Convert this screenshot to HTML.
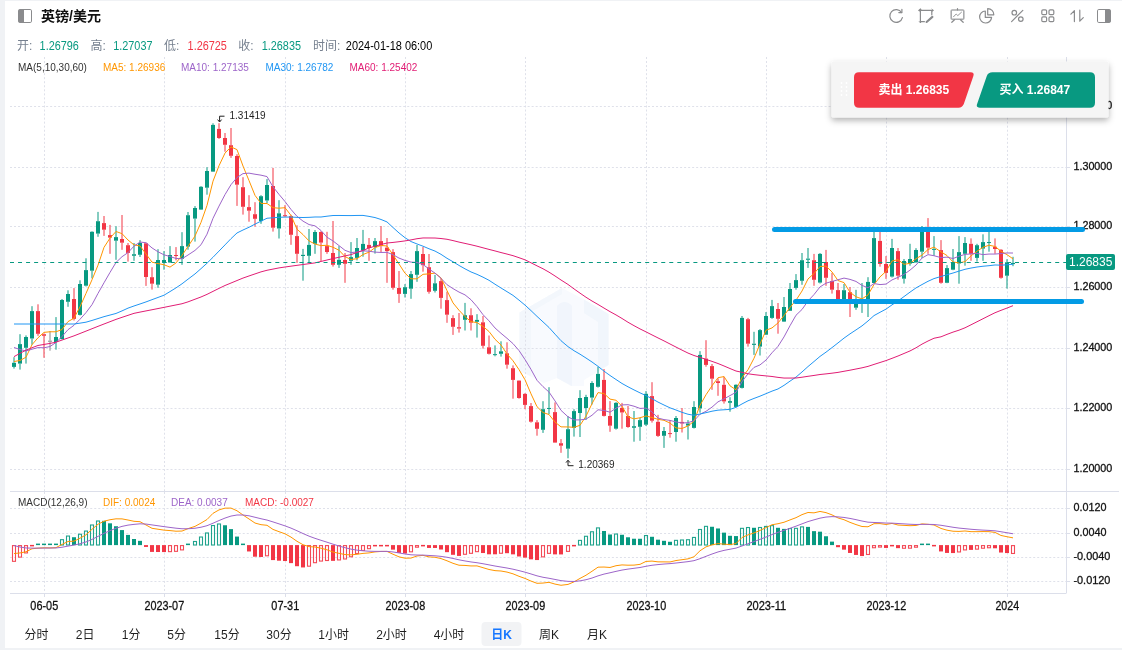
<!DOCTYPE html>
<html lang="zh-CN"><head><meta charset="utf-8"><title>英镑/美元</title>
<style>html,body{margin:0;padding:0;background:#fff;}body{width:1127px;height:651px;position:relative;overflow:hidden;font-family:"Liberation Sans","Noto Sans CJK SC",sans-serif;}svg text{white-space:pre}</style>
</head><body>
<svg width="1127" height="651" viewBox="0 0 1127 651" style="position:absolute;left:0;top:0">
<rect x="0" y="0" width="1127" height="651" fill="#fff"/>
<rect x="0" y="0" width="1122" height="650" fill="#f0f2f5"/>
<rect x="5" y="1" width="1117" height="647" fill="#fff"/>
<g><path d="M519.5 312.5L562 288L584 299.5L608.5 314V365L584 380V386L571 386L557 378L544 383L519.5 371Z" fill="#f8fafe"/><path d="M557 306Q564.5 298 572 306V386L557 378Z" fill="#f1f5fc"/><path d="M519.5 312.5L562 288L562 294L531 312V376L519.5 371Z" fill="#f3f7fc"/><path d="M584 299.5L608.5 314V365L598 371V322L584 313Z" fill="#f1f6fc"/></g>
<g stroke="#dfe1ea" stroke-width="1" stroke-dasharray="2 2.04" fill="none">
<path d="M44.5 57V491"/>
<path d="M44.5 492V593"/>
<path d="M164.5 57V491"/>
<path d="M164.5 492V593"/>
<path d="M285.5 57V491"/>
<path d="M285.5 492V593"/>
<path d="M405.5 57V491"/>
<path d="M405.5 492V593"/>
<path d="M525.5 57V491"/>
<path d="M525.5 492V593"/>
<path d="M646.5 57V491"/>
<path d="M646.5 492V593"/>
<path d="M766.5 57V491"/>
<path d="M766.5 492V593"/>
<path d="M886.5 57V491"/>
<path d="M886.5 492V593"/>
<path d="M1007.5 57V491"/>
<path d="M1007.5 492V593"/>
</g>
<g stroke="#dfe1ea" stroke-width="1" stroke-dasharray="2 2.0126" fill="none">
<path d="M10 106.5H1066"/>
<path d="M10 167.5H1066"/>
<path d="M10 226.5H1066"/>
<path d="M10 287.5H1066"/>
<path d="M10 348.5H1066"/>
<path d="M10 408.5H1066"/>
<path d="M10 469.5H1066"/>
<path d="M10 508.5H1066"/>
<path d="M10 533.5H1066"/>
<path d="M10 557.5H1066"/>
<path d="M10 581.5H1066"/>
</g>
<g stroke="#dcdfea" stroke-width="1" fill="none">
<path d="M10 491.5H1119"/>
<path d="M10 593.5H1066"/>
<path d="M1066.5 57V593.5"/>
<path d="M1066 106.5H1070"/>
<path d="M1066 167.5H1070"/>
<path d="M1066 226.5H1070"/>
<path d="M1066 287.5H1070"/>
<path d="M1066 348.5H1070"/>
<path d="M1066 408.5H1070"/>
<path d="M1066 469.5H1070"/>
<path d="M1066 508.5H1070"/>
<path d="M1066 533.5H1070"/>
<path d="M1066 557.5H1070"/>
<path d="M1066 581.5H1070"/>
<path d="M44.5 593V597"/>
<path d="M164.5 593V597"/>
<path d="M285.5 593V597"/>
<path d="M405.5 593V597"/>
<path d="M525.5 593V597"/>
<path d="M646.5 593V597"/>
<path d="M766.5 593V597"/>
<path d="M886.5 593V597"/>
<path d="M1007.5 593V597"/>
</g>
<g font-family="Liberation Sans, Noto Sans CJK SC, sans-serif" font-size="11.5" fill="#111" stroke="#111" stroke-width="0.3">
<text x="1073.4" y="109.1" textLength="38.98" lengthAdjust="spacingAndGlyphs">1.32000</text>
<text x="1073.4" y="170.1" textLength="38.98" lengthAdjust="spacingAndGlyphs">1.30000</text>
<text x="1073.4" y="229.1" textLength="38.98" lengthAdjust="spacingAndGlyphs">1.28000</text>
<text x="1073.4" y="290.1" textLength="38.98" lengthAdjust="spacingAndGlyphs">1.26000</text>
<text x="1073.4" y="351.1" textLength="38.98" lengthAdjust="spacingAndGlyphs">1.24000</text>
<text x="1073.4" y="411.1" textLength="38.98" lengthAdjust="spacingAndGlyphs">1.22000</text>
<text x="1073.4" y="472.1" textLength="38.98" lengthAdjust="spacingAndGlyphs">1.20000</text>
<text x="1073.4" y="511.1" textLength="33.05" lengthAdjust="spacingAndGlyphs">0.0120</text>
<text x="1073.4" y="536.1" textLength="33.05" lengthAdjust="spacingAndGlyphs">0.0040</text>
<text x="1073.4" y="560.1" textLength="37.05" lengthAdjust="spacingAndGlyphs">-0.0040</text>
<text x="1073.4" y="584.1" textLength="37.05" lengthAdjust="spacingAndGlyphs">-0.0120</text>
</g>
<g font-family="Liberation Sans, Noto Sans CJK SC, sans-serif" font-size="13" fill="#111" stroke="#111" stroke-width="0.3">
<text x="30.35" y="610.2" textLength="27.9" lengthAdjust="spacingAndGlyphs">06-05</text>
<text x="144.4" y="610.2" textLength="39.8" lengthAdjust="spacingAndGlyphs">2023-07</text>
<text x="271.35" y="610.2" textLength="27.9" lengthAdjust="spacingAndGlyphs">07-31</text>
<text x="385.4" y="610.2" textLength="39.8" lengthAdjust="spacingAndGlyphs">2023-08</text>
<text x="505.4" y="610.2" textLength="39.8" lengthAdjust="spacingAndGlyphs">2023-09</text>
<text x="626.4" y="610.2" textLength="39.8" lengthAdjust="spacingAndGlyphs">2023-10</text>
<text x="746.4" y="610.2" textLength="39.8" lengthAdjust="spacingAndGlyphs">2023-11</text>
<text x="866.4" y="610.2" textLength="39.8" lengthAdjust="spacingAndGlyphs">2023-12</text>
<text x="995.4" y="610.2" textLength="23.8" lengthAdjust="spacingAndGlyphs">2024</text>
</g>
<g stroke-width="1" fill="none"><path d="M14 357.2V362.8M14 366.9V368.6" stroke="#089981"/><path d="M20 334.2V344.1M20 363.6V369.6" stroke="#089981"/><path d="M26 335.4V337M26 347.8V363.6" stroke="#089981"/><path d="M32 306.2V311.1M32 338.5V344.7" stroke="#089981"/><path d="M38 304.3V311.1M38 333.8V335.8" stroke="#f23645"/><path d="M44 333.5V334.2M44 335.8V357.8" stroke="#f23645"/><path d="M50 331V340.7M50 341.7V350.7" stroke="#888888"/><path d="M56 317.1V337M56 342V349.7" stroke="#089981"/><path d="M62 299V300M62 339.1V339.5" stroke="#089981"/><path d="M68 290.3V294M68 301.8V306.8" stroke="#089981"/><path d="M74 288.1V299M74 318.9V320.5" stroke="#f23645"/><path d="M80 280.3V284M80 314.9V315.5" stroke="#089981"/><path d="M86 258.3V270.1M86 285.7V286.5" stroke="#089981"/><path d="M92 231.2V231.8M92 270.7V278.4" stroke="#089981"/><path d="M98 211.9V221.2M98 233.6V236.8" stroke="#089981"/><path d="M104 216V223.1M104 229.7V235.9" stroke="#f23645"/><path d="M110 224.9V235.1M110 237.6V253.8" stroke="#f23645"/><path d="M116 226.2V237.1M116 240.7V259.8" stroke="#089981"/><path d="M122 215V239M122 242.7V249.8" stroke="#f23645"/><path d="M128 243V245.2M128 252.9V261.6" stroke="#f23645"/><path d="M134 243V254.2M134 255.8V260.8" stroke="#089981"/><path d="M140 240.1V243M140 254.8V257" stroke="#089981"/><path d="M146 242.6V243.3M146 277V285.9" stroke="#f23645"/><path d="M152 267.2V277.2M152 283.7V289.6" stroke="#f23645"/><path d="M158 249.2V260M158 284.7V287.8" stroke="#089981"/><path d="M164 251.1V260M164 262.9V269.7" stroke="#089981"/><path d="M170 246.1V255M170 262.5V262.9" stroke="#089981"/><path d="M176 247.1V255M176 256V260.4" stroke="#f23645"/><path d="M182 232.2V246.1M182 258.8V264.8" stroke="#089981"/><path d="M188 212V215.2M188 246.6V249.7" stroke="#089981"/><path d="M195 206.1V208M195 218.6V241.6" stroke="#089981"/><path d="M201 186V186.8M201 209.6V209.9" stroke="#089981"/><path d="M207 167.2V171M207 187.7V194.7" stroke="#089981"/><path d="M213 123.3V124.9M213 171.6V172" stroke="#089981"/><path d="M219 123.2V128.9M219 138V138.9" stroke="#f23645"/><path d="M225 133V138M225 144.8V151.7" stroke="#f23645"/><path d="M231 128V145.2M231 155.8V157.9" stroke="#f23645"/><path d="M237 154.2V156M237 184.7V205.9" stroke="#f23645"/><path d="M243 177.2V187.2M243 206.8V214.6" stroke="#f23645"/><path d="M249 195.2V207.1M249 210.7V221.7" stroke="#f23645"/><path d="M255 202.2V214.2M255 218.8V226.7" stroke="#f23645"/><path d="M261 195.2V196.2M261 221.1V223.8" stroke="#089981"/><path d="M267 179.1V185M267 200.5V203" stroke="#089981"/><path d="M273 167.9V186M273 227.7V231.6" stroke="#f23645"/><path d="M279 200.2V213.3M279 228.5V238.5" stroke="#089981"/><path d="M285 205.1V215.2M285 216.3V217.1" stroke="#f23645"/><path d="M291 214.8V216.1M291 234.8V244.8" stroke="#f23645"/><path d="M297 225.3V236.1M297 253.8V262.9" stroke="#f23645"/><path d="M303 248.9V254.8M303 256V280.7" stroke="#089981"/><path d="M309 229V244.9M309 255.8V262.9" stroke="#089981"/><path d="M315 230.1V232M315 243.8V253.8" stroke="#089981"/><path d="M321 231.2V232M321 242.6V261" stroke="#f23645"/><path d="M327 231.8V246.1M327 252V253.8" stroke="#f23645"/><path d="M333 221V253M333 264.8V266.6" stroke="#f23645"/><path d="M339 246.1V259.8M339 264.8V267.9" stroke="#089981"/><path d="M345 253V260M345 263.8V282.8" stroke="#f23645"/><path d="M351 242.1V257.1M351 260.8V264.8" stroke="#089981"/><path d="M357 238V248M357 257.9V260.4" stroke="#089981"/><path d="M363 229.9V243.9M363 250.5V256.7" stroke="#089981"/><path d="M369 238V244.9M369 248V260.8" stroke="#f23645"/><path d="M375 238V241.1M375 247.1V253.6" stroke="#089981"/><path d="M381 226V241.1M381 246.1V252" stroke="#f23645"/><path d="M387 238V247.6M387 251.1V282.8" stroke="#f23645"/><path d="M393 249.1V252.1M393 287.8V289.7" stroke="#f23645"/><path d="M399 271V288M399 293.9V302.9" stroke="#f23645"/><path d="M405 284.1V287.2M405 293.9V297.5" stroke="#089981"/><path d="M411 271V274.1M411 288.7V298.8" stroke="#089981"/><path d="M417 245V251.1M417 274.8V281.8" stroke="#089981"/><path d="M423 247V254M423 265.2V271.7" stroke="#f23645"/><path d="M429 254V267.2M429 291.8V293.7" stroke="#f23645"/><path d="M435 274.9V283.3M435 290.8V292.5" stroke="#089981"/><path d="M441 278.3V281.1M441 297.9V308.7" stroke="#f23645"/><path d="M447 291.7V300.1M447 314.7V322.8" stroke="#f23645"/><path d="M453 315.2V318.1M453 326.8V334.9" stroke="#f23645"/><path d="M459 313V327.2M459 328.6V332.6" stroke="#f23645"/><path d="M465 302.9V315.2M465 319.8V330.5" stroke="#089981"/><path d="M471 308.3V315.2M471 322.7V330.5" stroke="#f23645"/><path d="M477 314.2V319.9M477 321.8V337.6" stroke="#089981"/><path d="M483 316V322.3M483 345.8V348.6" stroke="#f23645"/><path d="M489 335.5V347.3M489 353.8V354.5" stroke="#f23645"/><path d="M495 345.4V354.15M495 355.15V356.3" stroke="#089981"/><path d="M501 341.3V351.3M501 353.8V356.6" stroke="#089981"/><path d="M507 342.3V353.3M507 364.7V368.7" stroke="#f23645"/><path d="M513 365.4V368.2M513 379.9V398.7" stroke="#f23645"/><path d="M519 380.3V380.6M519 398V398.7" stroke="#f23645"/><path d="M525 393.1V393.9M525 404.9V409.2" stroke="#f23645"/><path d="M531 403V406.1M531 421.7V422.6" stroke="#f23645"/><path d="M537 420.1V422.3M537 428.8V435.7" stroke="#f23645"/><path d="M543 401.2V409.2M543 429.8V432.9" stroke="#089981"/><path d="M549 387.2V407.95M549 408.95V414.2" stroke="#089981"/><path d="M555 402.4V412.1M555 442.6V442.8" stroke="#f23645"/><path d="M561 439.1V443.2M561 445.7V452.8" stroke="#f23645"/><path d="M568 416.1V429.2M568 448.7V458.3" stroke="#089981"/><path d="M574 409.2V411.1M574 427.9V436.6" stroke="#089981"/><path d="M580 390.2V398M580 413V437" stroke="#089981"/><path d="M586 394.8V397M586 408V419.8" stroke="#089981"/><path d="M592 381.2V383M592 397.6V404.5" stroke="#089981"/><path d="M598 366.8V373.9M598 386.8V387.6" stroke="#089981"/><path d="M604 369V379.9M604 415.9V416.5" stroke="#f23645"/><path d="M610 401.1V416M610 425.7V431.8" stroke="#f23645"/><path d="M616 402.1V402.9M616 428.7V429.6" stroke="#089981"/><path d="M622 402.9V407.9M622 412.5V428.7" stroke="#f23645"/><path d="M628 406V416M628 427V427.8" stroke="#f23645"/><path d="M634 411V426.2M634 427.8V441.7" stroke="#089981"/><path d="M640 417.9V420.1M640 426.8V440.8" stroke="#089981"/><path d="M646 391.1V393.8M646 424.7V426" stroke="#089981"/><path d="M652 382.2V396.1M652 420.7V422.6" stroke="#f23645"/><path d="M658 414.8V421.8M658 435.9V436.9" stroke="#f23645"/><path d="M664 427V431M664 435.8V447.9" stroke="#089981"/><path d="M670 420.1V433.1M670 434.1V437.7" stroke="#f23645"/><path d="M676 416V418M676 432V441.7" stroke="#089981"/><path d="M682 408V421.9M682 423.4V432.5" stroke="#f23645"/><path d="M688 420.1V423.5M688 425.6V439.5" stroke="#089981"/><path d="M694 401.2V407M694 427.9V428.5" stroke="#089981"/><path d="M700 351.2V354.9M700 408.4V412.7" stroke="#089981"/><path d="M706 340.2V358.6M706 364.9V366.7" stroke="#f23645"/><path d="M712 364V366.1M712 378.7V389.8" stroke="#f23645"/><path d="M718 378.3V381.2M718 383V395.8" stroke="#f23645"/><path d="M724 376.7V384.8M724 401.4V403.6" stroke="#f23645"/><path d="M730 397.2V401.1M730 402.8V411.7" stroke="#089981"/><path d="M736 384.2V384.8M736 406.9V407.2" stroke="#089981"/><path d="M742 316V317.9M742 387.9V388.5" stroke="#089981"/><path d="M748 317.9V319.2M748 343.7V346.6" stroke="#f23645"/><path d="M754 331.8V343.7M754 344.9V354.9" stroke="#089981"/><path d="M760 329.1V330.1M760 346.6V355.5" stroke="#089981"/><path d="M766 312.1V316M766 334.7V335" stroke="#089981"/><path d="M772 299.9V306.1M772 317.9V318.8" stroke="#089981"/><path d="M778 303V309M778 318.8V333.7" stroke="#f23645"/><path d="M784 297V307M784 321.6V322" stroke="#089981"/><path d="M790 283V289M790 310.8V311" stroke="#089981"/><path d="M796 274.1V280.1M796 287.9V289.7" stroke="#089981"/><path d="M802 253V260.2M802 280.8V284.8" stroke="#089981"/><path d="M808 248V258.6M808 259.8V267.9" stroke="#089981"/><path d="M814 253.9V260.2M814 279.8V285.8" stroke="#f23645"/><path d="M820 253V253.9M820 282.6V283.5" stroke="#089981"/><path d="M826 249.9V262M826 277.8V285.8" stroke="#f23645"/><path d="M832 272.9V281M832 289.7V293.6" stroke="#f23645"/><path d="M838 283V290.1M838 301.5V302" stroke="#f23645"/><path d="M844 284V290.2M844 300.5V301" stroke="#089981"/><path d="M850 287V292.2M850 302V317" stroke="#f23645"/><path d="M856 289.8V300.6M856 307.7V309.8" stroke="#089981"/><path d="M862 283V300M862 301.5V312.9" stroke="#089981"/><path d="M868 277.2V281.9M868 300.5V317" stroke="#089981"/><path d="M874 230V238.1M874 283V283.5" stroke="#089981"/><path d="M880 229V240.9M880 264V266.7" stroke="#f23645"/><path d="M886 256.1V264M886 272.9V278.9" stroke="#f23645"/><path d="M892 238.9V248M892 276.6V277.5" stroke="#089981"/><path d="M898 248V251.1M898 275.7V279.7" stroke="#f23645"/><path d="M904 259V261M904 278.7V283.6" stroke="#089981"/><path d="M910 243.8V259M910 263.6V265.7" stroke="#089981"/><path d="M916 248.2V250M916 262.3V263" stroke="#089981"/><path d="M922 226V230M922 251.7V257.9" stroke="#089981"/><path d="M928 218.1V230.5M928 247.7V253.8" stroke="#f23645"/><path d="M934 236.1V248.9M934 249.9V255.8" stroke="#089981"/><path d="M941 240.1V250.1M941 282.8V283.7" stroke="#f23645"/><path d="M947 265.1V268.1M947 282.8V283.2" stroke="#089981"/><path d="M953 249V262.3M953 269.7V270.2" stroke="#089981"/><path d="M959 236.1V252.1M959 263.5V283.7" stroke="#089981"/><path d="M965 237.1V243M965 253.8V265.7" stroke="#089981"/><path d="M971 238.4V243.8M971 253.8V260.8" stroke="#f23645"/><path d="M977 243.8V245.2M977 257.9V261.6" stroke="#089981"/><path d="M983 234.3V242.1M983 248.6V260.8" stroke="#089981"/><path d="M989 228V242.05M989 243.05V251.7" stroke="#089981"/><path d="M995 238.4V246.7M995 249V253.8" stroke="#f23645"/><path d="M1001 249V249.8M1001 277.8V278.7" stroke="#f23645"/><path d="M1007 259.2V262.3M1007 275.7V288.6" stroke="#089981"/><path d="M1013 256.8V262.9M1013 264.1V266.2" stroke="#089981"/></g>
<g><rect x="12" y="362.8" width="4" height="4.1" fill="#089981"/><rect x="18" y="344.1" width="4" height="19.5" fill="#089981"/><rect x="24" y="337" width="4" height="10.8" fill="#089981"/><rect x="30" y="311.1" width="4" height="27.4" fill="#089981"/><rect x="36" y="311.1" width="4" height="22.7" fill="#f23645"/><rect x="42" y="334.2" width="4" height="1.6" fill="#f23645"/><rect x="48" y="340.7" width="4" height="1" fill="#888888"/><rect x="54" y="337" width="4" height="5" fill="#089981"/><rect x="60" y="300" width="4" height="39.1" fill="#089981"/><rect x="66" y="294" width="4" height="7.8" fill="#089981"/><rect x="72" y="299" width="4" height="19.9" fill="#f23645"/><rect x="78" y="284" width="4" height="30.9" fill="#089981"/><rect x="84" y="270.1" width="4" height="15.6" fill="#089981"/><rect x="90" y="231.8" width="4" height="38.9" fill="#089981"/><rect x="96" y="221.2" width="4" height="12.4" fill="#089981"/><rect x="102" y="223.1" width="4" height="6.6" fill="#f23645"/><rect x="108" y="235.1" width="4" height="2.5" fill="#f23645"/><rect x="114" y="237.1" width="4" height="3.6" fill="#089981"/><rect x="120" y="239" width="4" height="3.7" fill="#f23645"/><rect x="126" y="245.2" width="4" height="7.7" fill="#f23645"/><rect x="132" y="254.2" width="4" height="1.6" fill="#089981"/><rect x="138" y="243" width="4" height="11.8" fill="#089981"/><rect x="144" y="243.3" width="4" height="33.7" fill="#f23645"/><rect x="150" y="277.2" width="4" height="6.5" fill="#f23645"/><rect x="156" y="260" width="4" height="24.7" fill="#089981"/><rect x="162" y="260" width="4" height="2.9" fill="#089981"/><rect x="168" y="255" width="4" height="7.5" fill="#089981"/><rect x="174" y="255" width="4" height="1" fill="#f23645"/><rect x="180" y="246.1" width="4" height="12.7" fill="#089981"/><rect x="186" y="215.2" width="4" height="31.4" fill="#089981"/><rect x="193" y="208" width="4" height="10.6" fill="#089981"/><rect x="199" y="186.8" width="4" height="22.8" fill="#089981"/><rect x="205" y="171" width="4" height="16.7" fill="#089981"/><rect x="211" y="124.9" width="4" height="46.7" fill="#089981"/><rect x="217" y="128.9" width="4" height="9.1" fill="#f23645"/><rect x="223" y="138" width="4" height="6.8" fill="#f23645"/><rect x="229" y="145.2" width="4" height="10.6" fill="#f23645"/><rect x="235" y="156" width="4" height="28.7" fill="#f23645"/><rect x="241" y="187.2" width="4" height="19.6" fill="#f23645"/><rect x="247" y="207.1" width="4" height="3.6" fill="#f23645"/><rect x="253" y="214.2" width="4" height="4.6" fill="#f23645"/><rect x="259" y="196.2" width="4" height="24.9" fill="#089981"/><rect x="265" y="185" width="4" height="15.5" fill="#089981"/><rect x="271" y="186" width="4" height="41.7" fill="#f23645"/><rect x="277" y="213.3" width="4" height="15.2" fill="#089981"/><rect x="283" y="215.2" width="4" height="1.1" fill="#f23645"/><rect x="289" y="216.1" width="4" height="18.7" fill="#f23645"/><rect x="295" y="236.1" width="4" height="17.7" fill="#f23645"/><rect x="301" y="254.8" width="4" height="1.2" fill="#089981"/><rect x="307" y="244.9" width="4" height="10.9" fill="#089981"/><rect x="313" y="232" width="4" height="11.8" fill="#089981"/><rect x="319" y="232" width="4" height="10.6" fill="#f23645"/><rect x="325" y="246.1" width="4" height="5.9" fill="#f23645"/><rect x="331" y="253" width="4" height="11.8" fill="#f23645"/><rect x="337" y="259.8" width="4" height="5" fill="#089981"/><rect x="343" y="260" width="4" height="3.8" fill="#f23645"/><rect x="349" y="257.1" width="4" height="3.7" fill="#089981"/><rect x="355" y="248" width="4" height="9.9" fill="#089981"/><rect x="361" y="243.9" width="4" height="6.6" fill="#089981"/><rect x="367" y="244.9" width="4" height="3.1" fill="#f23645"/><rect x="373" y="241.1" width="4" height="6" fill="#089981"/><rect x="379" y="241.1" width="4" height="5" fill="#f23645"/><rect x="385" y="247.6" width="4" height="3.5" fill="#f23645"/><rect x="391" y="252.1" width="4" height="35.7" fill="#f23645"/><rect x="397" y="288" width="4" height="5.9" fill="#f23645"/><rect x="403" y="287.2" width="4" height="6.7" fill="#089981"/><rect x="409" y="274.1" width="4" height="14.6" fill="#089981"/><rect x="415" y="251.1" width="4" height="23.7" fill="#089981"/><rect x="421" y="254" width="4" height="11.2" fill="#f23645"/><rect x="427" y="267.2" width="4" height="24.6" fill="#f23645"/><rect x="433" y="283.3" width="4" height="7.5" fill="#089981"/><rect x="439" y="281.1" width="4" height="16.8" fill="#f23645"/><rect x="445" y="300.1" width="4" height="14.6" fill="#f23645"/><rect x="451" y="318.1" width="4" height="8.7" fill="#f23645"/><rect x="457" y="327.2" width="4" height="1.4" fill="#f23645"/><rect x="463" y="315.2" width="4" height="4.6" fill="#089981"/><rect x="469" y="315.2" width="4" height="7.5" fill="#f23645"/><rect x="475" y="319.9" width="4" height="1.9" fill="#089981"/><rect x="481" y="322.3" width="4" height="23.5" fill="#f23645"/><rect x="487" y="347.3" width="4" height="6.5" fill="#f23645"/><rect x="493" y="354.15" width="4" height="1" fill="#089981"/><rect x="499" y="351.3" width="4" height="2.5" fill="#089981"/><rect x="505" y="353.3" width="4" height="11.4" fill="#f23645"/><rect x="511" y="368.2" width="4" height="11.7" fill="#f23645"/><rect x="517" y="380.6" width="4" height="17.4" fill="#f23645"/><rect x="523" y="393.9" width="4" height="11" fill="#f23645"/><rect x="529" y="406.1" width="4" height="15.6" fill="#f23645"/><rect x="535" y="422.3" width="4" height="6.5" fill="#f23645"/><rect x="541" y="409.2" width="4" height="20.6" fill="#089981"/><rect x="547" y="407.95" width="4" height="1" fill="#089981"/><rect x="553" y="412.1" width="4" height="30.5" fill="#f23645"/><rect x="559" y="443.2" width="4" height="2.5" fill="#f23645"/><rect x="566" y="429.2" width="4" height="19.5" fill="#089981"/><rect x="572" y="411.1" width="4" height="16.8" fill="#089981"/><rect x="578" y="398" width="4" height="15" fill="#089981"/><rect x="584" y="397" width="4" height="11" fill="#089981"/><rect x="590" y="383" width="4" height="14.6" fill="#089981"/><rect x="596" y="373.9" width="4" height="12.9" fill="#089981"/><rect x="602" y="379.9" width="4" height="36" fill="#f23645"/><rect x="608" y="416" width="4" height="9.7" fill="#f23645"/><rect x="614" y="402.9" width="4" height="25.8" fill="#089981"/><rect x="620" y="407.9" width="4" height="4.6" fill="#f23645"/><rect x="626" y="416" width="4" height="11" fill="#f23645"/><rect x="632" y="426.2" width="4" height="1.6" fill="#089981"/><rect x="638" y="420.1" width="4" height="6.7" fill="#089981"/><rect x="644" y="393.8" width="4" height="30.9" fill="#089981"/><rect x="650" y="396.1" width="4" height="24.6" fill="#f23645"/><rect x="656" y="421.8" width="4" height="14.1" fill="#f23645"/><rect x="662" y="431" width="4" height="4.8" fill="#089981"/><rect x="668" y="433.1" width="4" height="1" fill="#f23645"/><rect x="674" y="418" width="4" height="14" fill="#089981"/><rect x="680" y="421.9" width="4" height="1.5" fill="#f23645"/><rect x="686" y="423.5" width="4" height="2.1" fill="#089981"/><rect x="692" y="407" width="4" height="20.9" fill="#089981"/><rect x="698" y="354.9" width="4" height="53.5" fill="#089981"/><rect x="704" y="358.6" width="4" height="6.3" fill="#f23645"/><rect x="710" y="366.1" width="4" height="12.6" fill="#f23645"/><rect x="716" y="381.2" width="4" height="1.8" fill="#f23645"/><rect x="722" y="384.8" width="4" height="16.6" fill="#f23645"/><rect x="728" y="401.1" width="4" height="1.7" fill="#089981"/><rect x="734" y="384.8" width="4" height="22.1" fill="#089981"/><rect x="740" y="317.9" width="4" height="70" fill="#089981"/><rect x="746" y="319.2" width="4" height="24.5" fill="#f23645"/><rect x="752" y="343.7" width="4" height="1.2" fill="#089981"/><rect x="758" y="330.1" width="4" height="16.5" fill="#089981"/><rect x="764" y="316" width="4" height="18.7" fill="#089981"/><rect x="770" y="306.1" width="4" height="11.8" fill="#089981"/><rect x="776" y="309" width="4" height="9.8" fill="#f23645"/><rect x="782" y="307" width="4" height="14.6" fill="#089981"/><rect x="788" y="289" width="4" height="21.8" fill="#089981"/><rect x="794" y="280.1" width="4" height="7.8" fill="#089981"/><rect x="800" y="260.2" width="4" height="20.6" fill="#089981"/><rect x="806" y="258.6" width="4" height="1.2" fill="#089981"/><rect x="812" y="260.2" width="4" height="19.6" fill="#f23645"/><rect x="818" y="253.9" width="4" height="28.7" fill="#089981"/><rect x="824" y="262" width="4" height="15.8" fill="#f23645"/><rect x="830" y="281" width="4" height="8.7" fill="#f23645"/><rect x="836" y="290.1" width="4" height="11.4" fill="#f23645"/><rect x="842" y="290.2" width="4" height="10.3" fill="#089981"/><rect x="848" y="292.2" width="4" height="9.8" fill="#f23645"/><rect x="854" y="300.6" width="4" height="7.1" fill="#089981"/><rect x="860" y="300" width="4" height="1.5" fill="#089981"/><rect x="866" y="281.9" width="4" height="18.6" fill="#089981"/><rect x="872" y="238.1" width="4" height="44.9" fill="#089981"/><rect x="878" y="240.9" width="4" height="23.1" fill="#f23645"/><rect x="884" y="264" width="4" height="8.9" fill="#f23645"/><rect x="890" y="248" width="4" height="28.6" fill="#089981"/><rect x="896" y="251.1" width="4" height="24.6" fill="#f23645"/><rect x="902" y="261" width="4" height="17.7" fill="#089981"/><rect x="908" y="259" width="4" height="4.6" fill="#089981"/><rect x="914" y="250" width="4" height="12.3" fill="#089981"/><rect x="920" y="230" width="4" height="21.7" fill="#089981"/><rect x="926" y="230.5" width="4" height="17.2" fill="#f23645"/><rect x="932" y="248.9" width="4" height="1" fill="#089981"/><rect x="939" y="250.1" width="4" height="32.7" fill="#f23645"/><rect x="945" y="268.1" width="4" height="14.7" fill="#089981"/><rect x="951" y="262.3" width="4" height="7.4" fill="#089981"/><rect x="957" y="252.1" width="4" height="11.4" fill="#089981"/><rect x="963" y="243" width="4" height="10.8" fill="#089981"/><rect x="969" y="243.8" width="4" height="10" fill="#f23645"/><rect x="975" y="245.2" width="4" height="12.7" fill="#089981"/><rect x="981" y="242.1" width="4" height="6.5" fill="#089981"/><rect x="987" y="242.05" width="4" height="1" fill="#089981"/><rect x="993" y="246.7" width="4" height="2.3" fill="#f23645"/><rect x="999" y="249.8" width="4" height="28" fill="#f23645"/><rect x="1005" y="262.3" width="4" height="13.4" fill="#089981"/><rect x="1011" y="262.9" width="4" height="1.2" fill="#089981"/></g>
<polyline points="14,361.5 20,360.5 26,357.2 32,344.7 38,337.76 44,332.36 50,331.78 56,331.78 62,329.56 68,321.6 74,318.22 80,306.78 86,293.4 92,279.76 98,265.2 104,247.36 110,238.08 116,231.48 122,233.66 128,240 134,244.9 140,245.98 146,253.96 152,262.16 158,263.58 164,264.74 170,267.14 176,262.94 182,255.42 188,246.46 195,236.06 201,222.42 207,205.42 213,181.18 219,165.74 225,153.1 231,146.9 237,149.64 243,166.02 249,180.56 255,195.36 261,203.44 267,203.5 273,207.68 279,208.2 285,207.7 291,215.42 297,229.18 303,234.6 309,240.92 315,244.06 321,245.62 327,245.26 333,247.26 339,250.24 345,256.6 351,259.5 357,258.7 363,254.52 369,252.16 375,247.62 381,245.42 387,246.04 393,254.82 399,264 405,273.22 411,278.82 417,278.82 423,274.3 429,273.88 435,273.1 441,277.86 447,290.58 453,302.9 459,310.26 465,316.64 471,321.6 477,322.64 483,326.44 489,331.48 495,339.28 501,345 507,353.96 513,360.78 519,369.62 525,379.76 531,393.84 537,406.66 543,412.52 549,414.52 555,422.06 561,426.86 568,426.94 574,427.32 580,425.32 586,416.2 592,403.66 598,392.6 604,393.56 610,399.1 616,400.28 622,406.18 628,416.8 634,418.86 640,417.74 646,415.92 652,417.56 658,419.34 664,420.3 670,423.08 676,427.92 682,428.46 688,425.98 694,421.18 700,405.36 706,394.74 712,385.8 718,377.7 724,376.58 730,385.82 736,389.8 742,377.64 748,369.78 754,358.24 760,344.04 766,330.28 772,327.92 778,322.94 784,315.6 790,307.38 796,300.2 802,291.02 808,278.98 814,273.54 820,266.52 826,266.06 832,271.96 838,280.54 844,282.62 850,292.24 856,296.8 862,298.86 868,294.94 874,284.52 880,276.92 886,271.38 892,260.98 898,259.74 904,264.32 910,263.32 916,258.74 922,255.14 928,249.54 934,247.14 941,251.9 947,255.52 953,261.98 959,262.86 965,261.66 971,255.86 977,251.28 983,247.24 989,245.24 995,246.44 1001,251.24 1007,254.66 1013,258.82" fill="none" stroke="#FF9600" stroke-width="1" stroke-linejoin="round"/>
<polyline points="14,347.5 20,349.5 26,351 32,349.2 38,347.6 44,347.8 50,346.5 56,342.5 62,336.5 68,329.68 74,325.29 80,319.28 86,312.59 92,304.66 98,293.4 104,282.79 110,272.43 116,262.44 122,256.71 128,252.6 134,246.13 140,242.03 146,242.72 152,247.91 158,251.79 164,254.82 170,256.56 176,258.45 182,258.79 188,255.02 195,250.4 201,244.78 207,234.18 213,218.3 219,206.1 225,194.58 231,184.66 237,177.53 243,173.6 249,173.15 255,174.23 261,175.17 267,176.57 273,186.85 279,194.38 285,201.53 291,209.43 297,216.34 303,221.14 309,224.56 315,225.88 321,230.52 327,237.22 333,240.93 339,245.58 345,250.33 351,252.56 357,251.98 363,250.89 369,251.2 375,252.11 381,252.46 387,252.37 393,254.67 399,258.08 405,260.42 411,262.12 417,262.43 423,264.56 429,268.94 435,273.16 441,278.34 447,284.7 453,288.6 459,292.07 465,294.87 471,299.73 477,306.61 483,314.67 489,320.87 495,327.96 501,333.3 507,338.3 513,343.61 519,350.55 525,359.52 531,369.42 537,380.31 543,386.65 549,392.07 555,400.91 561,410.35 568,416.8 574,419.92 580,419.92 586,419.13 592,415.26 598,409.77 604,410.44 610,412.21 616,408.24 622,404.92 628,404.7 634,406.21 640,408.42 646,408.1 652,411.87 658,418.07 664,419.58 670,420.41 676,421.92 682,423.01 688,422.66 694,420.74 700,414.22 706,411.33 712,407.13 718,401.84 724,398.88 730,395.59 736,392.27 742,381.72 748,373.74 754,367.41 760,364.93 766,360.04 772,352.78 778,346.36 784,336.92 790,325.71 796,315.24 802,309.47 808,300.96 814,294.57 820,286.95 826,283.13 832,281.49 838,279.76 844,278.08 850,279.38 856,281.43 862,285.41 868,287.74 874,283.57 880,284.58 886,284.09 892,279.92 898,277.34 904,274.42 910,270.12 916,265.06 922,258.06 928,254.64 934,255.73 941,257.61 947,257.13 953,258.56 959,256.2 965,254.4 971,253.88 977,253.4 983,254.61 989,254.05 995,254.05 1001,253.55 1007,252.97 1013,253.03" fill="none" stroke="#9D65C9" stroke-width="1" stroke-linejoin="round"/>
<polyline points="14,324 20,324 26,324 32,324 38,324 44,324 50,324 56,324 62,324 68,324 74,324 80,323.15 86,322.18 92,320.45 98,318.55 104,316.66 110,315.05 116,313.46 122,310.9 128,308.14 134,305.97 140,303.97 146,301.91 152,299.67 158,297.44 164,295.21 170,291.58 176,287.88 182,283.8 188,279.19 195,273.92 201,268.63 207,263.19 213,257.27 219,251.07 225,244.9 231,238.65 237,232.96 243,230 249,227.27 255,224.12 261,221.16 267,218.24 273,217.79 279,217.3 285,217.07 291,217.05 297,217.36 303,217.53 309,217.35 315,216.99 321,217.01 327,216.21 333,215.51 339,215.48 345,215.54 351,215.58 357,215.44 363,215.41 369,216.39 375,217.55 381,219.48 387,221.93 393,227.5 399,232.95 405,237.71 411,241.55 417,243.96 423,246.2 429,248.77 435,251.07 441,254.34 447,258.3 453,261.75 459,265.43 465,268.83 471,271.94 477,274.35 483,277.17 489,280.29 495,284.22 501,287.97 507,291.66 513,295.39 519,300.13 525,305.11 531,310.62 537,316.39 543,321.9 549,327.48 555,334.13 561,340.71 568,346.62 574,350.71 580,354.19 586,358.02 592,362 598,366.34 604,371.15 610,375.47 616,379.51 622,383.48 628,386.81 634,389.9 640,392.85 646,395.6 652,398.68 658,402.09 664,405.02 670,407.84 676,410.01 682,412.33 688,414.24 694,415.31 700,414.03 706,412.68 712,411.21 718,410.16 724,409.77 730,409.37 736,407.35 742,403.94 748,400.81 754,398.41 760,396.16 766,393.66 772,391.13 778,388.96 784,385.37 790,381.13 796,377.1 802,371.97 808,366.56 814,361.53 820,356.42 826,352.17 832,347.6 838,342.92 844,338.14 850,333.87 856,329.92 862,325.87 868,320.97 874,315.59 880,312.31 886,309.11 892,304.86 898,300.99 904,296.58 910,292.15 916,287.93 922,284.56 928,281.3 934,278.59 941,276.49 947,274.73 953,273.03 959,271.12 965,269.31 971,268.05 977,267 983,266.24 989,265.69 995,264.97 1001,265.17 1007,264.79 1013,264.22" fill="none" stroke="#2196F3" stroke-width="1" stroke-linejoin="round"/>
<polyline points="14,356.63 20,353.31 26,350.16 32,347.74 38,345.48 44,344.45 50,343.42 56,342.18 62,340.07 68,337.96 74,335.85 80,333.49 86,331.11 92,328.72 98,326.34 104,324.01 110,321.7 116,319.39 122,317.33 128,315.33 134,313.33 140,312.1 146,310.92 152,309.74 158,308.56 164,307.36 170,306.15 176,304.95 182,303.74 188,301.87 195,299.23 201,296.97 207,294.36 213,291.37 219,288.39 225,285.49 231,283.02 237,280.54 243,278.07 249,275.96 255,273.91 261,271.86 267,270.27 273,269.08 279,267.9 285,267 291,266.16 297,265.34 303,264.52 309,263.71 315,262.88 321,261.44 327,260.01 333,258.58 339,257.25 345,255.93 351,254.6 357,252.49 363,250.38 369,247.99 375,246.16 381,244.53 387,243 393,242.43 399,241.71 405,240.92 411,239.9 417,238.71 423,237.96 429,237.98 435,238.02 441,238.52 447,239.28 453,240.58 459,242.09 465,243.41 471,244.76 477,246.2 483,247.81 489,249.4 495,250.93 501,252.55 507,254.07 513,255.66 519,257.7 525,259.83 531,262.8 537,265.83 543,268.77 549,272.16 555,275.98 561,280.01 568,284.45 574,288.9 580,293.13 586,297.25 592,301.02 598,304.46 604,308.07 610,311.63 616,314.92 622,318.48 628,322.25 634,325.66 640,328.9 646,331.87 652,334.92 658,337.93 664,340.89 670,343.99 676,347.07 682,350.11 688,353.07 694,355.5 700,357.41 706,359.36 712,361.38 718,363.52 724,365.97 730,368.54 736,371.02 742,372.32 748,373.78 754,374.64 760,375.3 766,375.9 772,376.49 778,377.38 784,378.05 790,378.06 796,378.01 802,377.23 808,376.3 814,375.44 820,374.5 826,373.88 832,373.18 838,372.38 844,371.27 850,370.2 856,369 862,367.82 868,366.38 874,364.42 880,362.5 886,360.59 892,358.34 898,356.01 904,353.48 910,350.94 916,347.81 922,344.13 928,341.02 934,338.24 941,336.81 947,334.36 953,332.12 959,330.18 965,327.81 971,324.8 977,321.78 983,318.74 989,315.7 995,312.74 1001,310.33 1007,308.06 1013,305.68" fill="none" stroke="#E11D74" stroke-width="1" stroke-linejoin="round"/>
<path d="M10 262.5H1066" stroke="#089981" stroke-width="1" stroke-dasharray="4 4.04" fill="none"/>
<g stroke="#039be5" stroke-width="5" stroke-linecap="round" fill="none"><path d="M774.5 229.4H1082.5"/><path d="M795.5 301.4H1081.5"/></g>
<rect x="1066" y="254" width="49" height="16" rx="2" fill="#089981"/>
<text x="1069" y="266.3" font-family="Liberation Sans, Noto Sans CJK SC, sans-serif" font-size="12" fill="#fff">1.26835</text>
<g font-family="Liberation Sans, Noto Sans CJK SC, sans-serif" font-size="10" fill="#1f1f1f"><text x="229.5" y="118.7">1.31419</text><text x="578.3" y="467.7">1.20369</text></g>
<g stroke="#1f1f1f" stroke-width="1" fill="none"><path d="M224.5 116.2H219.6V121.6M217.6 119.6L219.6 122L221.6 119.6"/><path d="M573.5 465.7H568V460.6M566 462.6L568 460.2L570 462.6"/></g>
<g><rect x="12.5" y="545.6" width="3" height="15.73" fill="none" stroke="#f23645" stroke-width="1.1" opacity="0.9"/><rect x="18.5" y="545.6" width="3" height="11.52" fill="none" stroke="#f23645" stroke-width="1.1" opacity="0.9"/><rect x="24.5" y="545.6" width="3" height="7.33" fill="none" stroke="#f23645" stroke-width="1.1" opacity="0.9"/><rect x="30" y="544.9" width="4" height="1.5" fill="#f23645"/><rect x="36" y="543.6" width="4" height="1.5" fill="#089981"/><rect x="42" y="543.6" width="4" height="1.5" fill="#089981"/><rect x="48" y="543.6" width="4" height="1.5" fill="#089981"/><rect x="54" y="543.6" width="4" height="1.5" fill="#089981"/><rect x="60.5" y="539.69" width="3" height="5.31" fill="none" stroke="#089981" stroke-width="1.1" opacity="0.9"/><rect x="66.5" y="536.05" width="3" height="8.95" fill="none" stroke="#089981" stroke-width="1.1" opacity="0.9"/><rect x="72" y="537.22" width="4" height="7.88" fill="#089981"/><rect x="78.5" y="534.23" width="3" height="10.77" fill="none" stroke="#089981" stroke-width="1.1" opacity="0.9"/><rect x="84.5" y="531.07" width="3" height="13.93" fill="none" stroke="#089981" stroke-width="1.1" opacity="0.9"/><rect x="90.5" y="525" width="3" height="20" fill="none" stroke="#089981" stroke-width="1.1" opacity="0.9"/><rect x="96.5" y="521.01" width="3" height="23.99" fill="none" stroke="#089981" stroke-width="1.1" opacity="0.9"/><rect x="102" y="520.83" width="4" height="24.27" fill="#089981"/><rect x="108" y="523.33" width="4" height="21.77" fill="#089981"/><rect x="114" y="526.24" width="4" height="18.86" fill="#089981"/><rect x="120" y="530.08" width="4" height="15.02" fill="#089981"/><rect x="126" y="534.91" width="4" height="10.19" fill="#089981"/><rect x="132" y="539.01" width="4" height="6.09" fill="#089981"/><rect x="138" y="540.84" width="4" height="4.26" fill="#089981"/><rect x="144" y="545.1" width="4" height="1.84" fill="#f23645"/><rect x="150" y="545.1" width="4" height="6.81" fill="#f23645"/><rect x="156" y="545.1" width="4" height="6.91" fill="#f23645"/><rect x="162" y="545.1" width="4" height="6.96" fill="#f23645"/><rect x="168.5" y="545.6" width="3" height="6.03" fill="none" stroke="#f23645" stroke-width="1.1" opacity="0.9"/><rect x="174.5" y="545.6" width="3" height="5.75" fill="none" stroke="#f23645" stroke-width="1.1" opacity="0.9"/><rect x="180.5" y="545.6" width="3" height="4.3" fill="none" stroke="#f23645" stroke-width="1.1" opacity="0.9"/><rect x="186" y="543.6" width="4" height="1.5" fill="#089981"/><rect x="193.5" y="541.49" width="3" height="3.51" fill="none" stroke="#089981" stroke-width="1.1" opacity="0.9"/><rect x="199.5" y="537.03" width="3" height="7.97" fill="none" stroke="#089981" stroke-width="1.1" opacity="0.9"/><rect x="205.5" y="532.97" width="3" height="12.03" fill="none" stroke="#089981" stroke-width="1.1" opacity="0.9"/><rect x="211.5" y="525.54" width="3" height="19.46" fill="none" stroke="#089981" stroke-width="1.1" opacity="0.9"/><rect x="217.5" y="524" width="3" height="21" fill="none" stroke="#089981" stroke-width="1.1" opacity="0.9"/><rect x="223" y="525.26" width="4" height="19.84" fill="#089981"/><rect x="229" y="529.11" width="4" height="15.99" fill="#089981"/><rect x="235" y="536.58" width="4" height="8.52" fill="#089981"/><rect x="241" y="543.6" width="4" height="1.5" fill="#089981"/><rect x="247" y="545.1" width="4" height="6.36" fill="#f23645"/><rect x="253" y="545.1" width="4" height="11.59" fill="#f23645"/><rect x="259" y="545.1" width="4" height="11.88" fill="#f23645"/><rect x="265.5" y="545.6" width="3" height="10.19" fill="none" stroke="#f23645" stroke-width="1.1" opacity="0.9"/><rect x="271" y="545.1" width="4" height="14.98" fill="#f23645"/><rect x="277" y="545.1" width="4" height="15.59" fill="#f23645"/><rect x="283" y="545.1" width="4" height="15.93" fill="#f23645"/><rect x="289" y="545.1" width="4" height="18.02" fill="#f23645"/><rect x="295" y="545.1" width="4" height="21.12" fill="#f23645"/><rect x="301" y="545.1" width="4" height="22.34" fill="#f23645"/><rect x="307.5" y="545.6" width="3" height="20.58" fill="none" stroke="#f23645" stroke-width="1.1" opacity="0.9"/><rect x="313.5" y="545.6" width="3" height="17.09" fill="none" stroke="#f23645" stroke-width="1.1" opacity="0.9"/><rect x="319.5" y="545.6" width="3" height="15.47" fill="none" stroke="#f23645" stroke-width="1.1" opacity="0.9"/><rect x="325.5" y="545.6" width="3" height="14.91" fill="none" stroke="#f23645" stroke-width="1.1" opacity="0.9"/><rect x="331" y="545.1" width="4" height="15.75" fill="#f23645"/><rect x="337.5" y="545.6" width="3" height="14.34" fill="none" stroke="#f23645" stroke-width="1.1" opacity="0.9"/><rect x="343.5" y="545.6" width="3" height="13.38" fill="none" stroke="#f23645" stroke-width="1.1" opacity="0.9"/><rect x="349.5" y="545.6" width="3" height="11.15" fill="none" stroke="#f23645" stroke-width="1.1" opacity="0.9"/><rect x="355.5" y="545.6" width="3" height="7.92" fill="none" stroke="#f23645" stroke-width="1.1" opacity="0.9"/><rect x="361.5" y="545.6" width="3" height="4.85" fill="none" stroke="#f23645" stroke-width="1.1" opacity="0.9"/><rect x="367.5" y="545.6" width="3" height="3.07" fill="none" stroke="#f23645" stroke-width="1.1" opacity="0.9"/><rect x="373" y="544.9" width="4" height="1.5" fill="#f23645"/><rect x="379" y="544.9" width="4" height="1.5" fill="#f23645"/><rect x="385" y="544.9" width="4" height="1.5" fill="#f23645"/><rect x="391" y="545.1" width="4" height="4.55" fill="#f23645"/><rect x="397" y="545.1" width="4" height="7.79" fill="#f23645"/><rect x="403" y="545.1" width="4" height="8.42" fill="#f23645"/><rect x="409.5" y="545.6" width="3" height="6.24" fill="none" stroke="#f23645" stroke-width="1.1" opacity="0.9"/><rect x="415.5" y="545.6" width="3" height="1.6" fill="none" stroke="#f23645" stroke-width="1.1" opacity="0.9"/><rect x="421" y="544.9" width="4" height="1.5" fill="#f23645"/><rect x="427" y="545.1" width="4" height="2.83" fill="#f23645"/><rect x="433" y="545.1" width="4" height="2.86" fill="#f23645"/><rect x="439" y="545.1" width="4" height="4.4" fill="#f23645"/><rect x="445" y="545.1" width="4" height="7.07" fill="#f23645"/><rect x="451" y="545.1" width="4" height="9.7" fill="#f23645"/><rect x="457" y="545.1" width="4" height="10.82" fill="#f23645"/><rect x="463.5" y="545.6" width="3" height="8.68" fill="none" stroke="#f23645" stroke-width="1.1" opacity="0.9"/><rect x="469.5" y="545.6" width="3" height="7.72" fill="none" stroke="#f23645" stroke-width="1.1" opacity="0.9"/><rect x="475.5" y="545.6" width="3" height="6.04" fill="none" stroke="#f23645" stroke-width="1.1" opacity="0.9"/><rect x="481" y="545.1" width="4" height="7.93" fill="#f23645"/><rect x="487" y="545.1" width="4" height="9.2" fill="#f23645"/><rect x="493" y="545.1" width="4" height="9.2" fill="#f23645"/><rect x="499.5" y="545.6" width="3" height="7.67" fill="none" stroke="#f23645" stroke-width="1.1" opacity="0.9"/><rect x="505" y="545.1" width="4" height="8.09" fill="#f23645"/><rect x="511" y="545.1" width="4" height="9.26" fill="#f23645"/><rect x="517" y="545.1" width="4" height="11.38" fill="#f23645"/><rect x="523" y="545.1" width="4" height="12.53" fill="#f23645"/><rect x="529" y="545.1" width="4" height="14.24" fill="#f23645"/><rect x="535" y="545.1" width="4" height="14.95" fill="#f23645"/><rect x="541.5" y="545.6" width="3" height="11.25" fill="none" stroke="#f23645" stroke-width="1.1" opacity="0.9"/><rect x="547.5" y="545.6" width="3" height="7.77" fill="none" stroke="#f23645" stroke-width="1.1" opacity="0.9"/><rect x="553" y="545.1" width="4" height="9.28" fill="#f23645"/><rect x="559" y="545.1" width="4" height="9.32" fill="#f23645"/><rect x="566.5" y="545.6" width="3" height="5.8" fill="none" stroke="#f23645" stroke-width="1.1" opacity="0.9"/><rect x="572" y="544.9" width="4" height="1.5" fill="#f23645"/><rect x="578.5" y="540.39" width="3" height="4.61" fill="none" stroke="#089981" stroke-width="1.1" opacity="0.9"/><rect x="584.5" y="536.29" width="3" height="8.71" fill="none" stroke="#089981" stroke-width="1.1" opacity="0.9"/><rect x="590.5" y="531.78" width="3" height="13.22" fill="none" stroke="#089981" stroke-width="1.1" opacity="0.9"/><rect x="596.5" y="527.9" width="3" height="17.1" fill="none" stroke="#089981" stroke-width="1.1" opacity="0.9"/><rect x="602" y="530.98" width="4" height="14.12" fill="#089981"/><rect x="608" y="534.49" width="4" height="10.61" fill="#089981"/><rect x="614.5" y="534.04" width="3" height="10.96" fill="none" stroke="#089981" stroke-width="1.1" opacity="0.9"/><rect x="620" y="534.77" width="4" height="10.33" fill="#089981"/><rect x="626" y="537.28" width="4" height="7.82" fill="#089981"/><rect x="632" y="538.73" width="4" height="6.37" fill="#089981"/><rect x="638" y="538.77" width="4" height="6.33" fill="#089981"/><rect x="644.5" y="535.56" width="3" height="9.44" fill="none" stroke="#089981" stroke-width="1.1" opacity="0.9"/><rect x="650" y="536.78" width="4" height="8.32" fill="#089981"/><rect x="656" y="539.68" width="4" height="5.42" fill="#089981"/><rect x="662" y="540.8" width="4" height="4.3" fill="#089981"/><rect x="668" y="541.77" width="4" height="3.33" fill="#089981"/><rect x="674.5" y="540.37" width="3" height="4.63" fill="none" stroke="#089981" stroke-width="1.1" opacity="0.9"/><rect x="680.5" y="539.99" width="3" height="5.01" fill="none" stroke="#089981" stroke-width="1.1" opacity="0.9"/><rect x="686.5" y="539.72" width="3" height="5.28" fill="none" stroke="#089981" stroke-width="1.1" opacity="0.9"/><rect x="692.5" y="537.44" width="3" height="7.56" fill="none" stroke="#089981" stroke-width="1.1" opacity="0.9"/><rect x="698.5" y="529.49" width="3" height="15.51" fill="none" stroke="#089981" stroke-width="1.1" opacity="0.9"/><rect x="704.5" y="526.37" width="3" height="18.63" fill="none" stroke="#089981" stroke-width="1.1" opacity="0.9"/><rect x="710" y="526.76" width="4" height="18.34" fill="#089981"/><rect x="716" y="528.47" width="4" height="16.63" fill="#089981"/><rect x="722" y="532.65" width="4" height="12.45" fill="#089981"/><rect x="728" y="535.78" width="4" height="9.32" fill="#089981"/><rect x="734" y="536.08" width="4" height="9.02" fill="#089981"/><rect x="740.5" y="528.34" width="3" height="16.66" fill="none" stroke="#089981" stroke-width="1.1" opacity="0.9"/><rect x="746.5" y="527.53" width="3" height="17.47" fill="none" stroke="#089981" stroke-width="1.1" opacity="0.9"/><rect x="752" y="527.78" width="4" height="17.32" fill="#089981"/><rect x="758.5" y="527.5" width="3" height="17.5" fill="none" stroke="#089981" stroke-width="1.1" opacity="0.9"/><rect x="764.5" y="526.44" width="3" height="18.56" fill="none" stroke="#089981" stroke-width="1.1" opacity="0.9"/><rect x="770.5" y="525.64" width="3" height="19.36" fill="none" stroke="#089981" stroke-width="1.1" opacity="0.9"/><rect x="776" y="527.79" width="4" height="17.31" fill="#089981"/><rect x="782" y="528.89" width="4" height="16.21" fill="#089981"/><rect x="788.5" y="528.6" width="3" height="16.4" fill="none" stroke="#089981" stroke-width="1.1" opacity="0.9"/><rect x="794.5" y="528.34" width="3" height="16.66" fill="none" stroke="#089981" stroke-width="1.1" opacity="0.9"/><rect x="800.5" y="526.88" width="3" height="18.12" fill="none" stroke="#089981" stroke-width="1.1" opacity="0.9"/><rect x="806" y="526.9" width="4" height="18.2" fill="#089981"/><rect x="812" y="531.14" width="4" height="13.96" fill="#089981"/><rect x="818" y="531.68" width="4" height="13.42" fill="#089981"/><rect x="824" y="536.26" width="4" height="8.84" fill="#089981"/><rect x="830" y="541.63" width="4" height="3.47" fill="#089981"/><rect x="836" y="545.1" width="4" height="2.1" fill="#f23645"/><rect x="842" y="545.1" width="4" height="4.55" fill="#f23645"/><rect x="848" y="545.1" width="4" height="7.86" fill="#f23645"/><rect x="854" y="545.1" width="4" height="9.83" fill="#f23645"/><rect x="860" y="545.1" width="4" height="10.94" fill="#f23645"/><rect x="866.5" y="545.6" width="3" height="8.89" fill="none" stroke="#f23645" stroke-width="1.1" opacity="0.9"/><rect x="872.5" y="545.6" width="3" height="2.14" fill="none" stroke="#f23645" stroke-width="1.1" opacity="0.9"/><rect x="878.5" y="545.6" width="3" height="1.49" fill="none" stroke="#f23645" stroke-width="1.1" opacity="0.9"/><rect x="884" y="545.1" width="4" height="2.84" fill="#f23645"/><rect x="890" y="544.9" width="4" height="1.5" fill="#f23645"/><rect x="896" y="545.1" width="4" height="3.06" fill="#f23645"/><rect x="902.5" y="545.6" width="3" height="2.67" fill="none" stroke="#f23645" stroke-width="1.1" opacity="0.9"/><rect x="908.5" y="545.6" width="3" height="2.59" fill="none" stroke="#f23645" stroke-width="1.1" opacity="0.9"/><rect x="914.5" y="545.6" width="3" height="1.63" fill="none" stroke="#f23645" stroke-width="1.1" opacity="0.9"/><rect x="920" y="543.6" width="4" height="1.5" fill="#089981"/><rect x="926" y="543.6" width="4" height="1.5" fill="#089981"/><rect x="932" y="544.9" width="4" height="1.5" fill="#f23645"/><rect x="939" y="545.1" width="4" height="6.34" fill="#f23645"/><rect x="945" y="545.1" width="4" height="7.83" fill="#f23645"/><rect x="951" y="545.1" width="4" height="7.96" fill="#f23645"/><rect x="957.5" y="545.6" width="3" height="6.35" fill="none" stroke="#f23645" stroke-width="1.1" opacity="0.9"/><rect x="963.5" y="545.6" width="3" height="4.32" fill="none" stroke="#f23645" stroke-width="1.1" opacity="0.9"/><rect x="969" y="545.1" width="4" height="4.79" fill="#f23645"/><rect x="975.5" y="545.6" width="3" height="3.54" fill="none" stroke="#f23645" stroke-width="1.1" opacity="0.9"/><rect x="981.5" y="545.6" width="3" height="2.62" fill="none" stroke="#f23645" stroke-width="1.1" opacity="0.9"/><rect x="987.5" y="545.6" width="3" height="2.17" fill="none" stroke="#f23645" stroke-width="1.1" opacity="0.9"/><rect x="993" y="545.1" width="4" height="3.2" fill="#f23645"/><rect x="999" y="545.1" width="4" height="7.43" fill="#f23645"/><rect x="1005" y="545.1" width="4" height="7.96" fill="#f23645"/><rect x="1011.5" y="545.6" width="3" height="7.87" fill="none" stroke="#f23645" stroke-width="1.1" opacity="0.9"/></g>
<polyline points="14,553.56 20,552.94 26,551.8 32,548.76 38,548.15 44,547.79 50,547.91 56,547.64 62,544.45 68,541.48 74,541.18 80,538.2 86,534.84 92,529.27 98,524.24 104,521.21 110,519.74 116,518.84 122,518.88 128,520.03 134,521.31 140,521.7 146,524.98 152,528.31 158,529.22 164,530.12 170,530.59 176,531.21 182,531.06 188,528.64 195,526.36 201,523.09 207,519.52 213,513.34 219,509.9 225,508.15 231,508.08 237,510.75 243,515 249,518.98 255,523.04 261,524.68 267,525.29 273,529.41 279,531.66 285,533.82 291,537.12 297,541.31 303,544.71 309,546.6 315,547.02 321,548.18 327,549.81 333,552.05 339,553.32 345,554.55 351,554.87 357,554.28 363,553.39 369,552.92 375,551.91 381,551.45 387,551.41 393,554.23 399,556.83 405,558.2 411,558.07 417,555.99 423,555.36 429,556.88 435,557.25 441,558.57 447,560.79 453,563.31 459,565.23 465,565.43 471,565.95 477,565.9 483,567.69 489,569.48 495,570.63 501,571.01 507,572.08 513,573.82 519,576.3 525,578.45 531,581.08 537,583.3 543,583.05 549,582.32 555,584.08 561,585.27 568,584.42 574,581.87 580,578.4 586,575.23 592,571.28 598,567.16 604,567.04 610,567.47 616,565.73 622,564.91 628,565.19 634,565.12 640,564.35 646,561.42 652,561.09 658,561.87 664,561.89 670,561.96 676,560.54 682,559.69 688,558.86 694,556.74 700,550.78 706,546.85 712,544.86 718,543.64 724,544.17 730,544.57 736,543.59 742,537.5 748,534.88 754,532.94 760,530.47 766,527.58 772,524.73 778,523.73 784,522.26 790,519.93 796,517.68 802,514.64 808,512.48 814,512.85 820,511.45 826,512.63 832,514.88 838,517.93 844,519.72 850,522.36 856,524.58 862,526.5 868,526.77 874,523.7 880,523.6 886,524.48 892,523.42 898,525.04 904,525.37 910,525.7 916,525.45 922,523.89 928,524.32 934,525 941,528.45 947,530.18 953,531.23 959,531.41 965,530.97 971,531.66 977,531.66 983,531.57 989,531.65 995,532.42 1001,535.46 1007,536.72 1013,537.85" fill="none" stroke="#FF9600" stroke-width="1" stroke-linejoin="round"/>
<polyline points="14,545.55 20,547.03 26,547.98 32,548.14 38,548.14 44,548.07 50,548.04 56,547.96 62,547.26 68,546.1 74,545.12 80,543.73 86,541.95 92,539.42 98,536.38 104,533.35 110,530.63 116,528.27 122,526.39 128,525.12 134,524.36 140,523.82 146,524.06 152,524.91 158,525.77 164,526.64 170,527.43 176,528.19 182,528.76 188,528.74 195,528.26 201,527.23 207,525.69 213,523.22 219,520.55 225,518.07 231,516.07 237,515.01 243,515.01 249,515.8 255,517.25 261,518.74 267,520.05 273,521.92 279,523.87 285,525.86 291,528.11 297,530.75 303,533.54 309,536.15 315,538.33 321,540.3 327,542.2 333,544.17 339,546 345,547.71 351,549.14 357,550.17 363,550.81 369,551.23 375,551.37 381,551.38 387,551.39 393,551.96 399,552.93 405,553.99 411,554.8 417,555.04 423,555.1 429,555.46 435,555.82 441,556.37 447,557.25 453,558.46 459,559.82 465,560.94 471,561.94 477,562.73 483,563.72 489,564.87 495,566.03 501,567.02 507,568.03 513,569.19 519,570.61 525,572.18 531,573.96 537,575.83 543,577.27 549,578.28 555,579.44 561,580.61 568,581.37 574,581.47 580,580.85 586,579.73 592,578.04 598,575.86 604,574.1 610,572.77 616,571.37 622,570.07 628,569.1 634,568.3 640,567.51 646,566.29 652,565.25 658,564.58 664,564.04 670,563.62 676,563.01 682,562.34 688,561.64 694,560.66 700,558.69 706,556.32 712,554.03 718,551.95 724,550.39 730,549.23 736,548.1 742,545.98 748,543.76 754,541.59 760,539.37 766,537.01 772,534.55 778,532.39 784,530.36 790,528.28 796,526.16 802,523.85 808,521.58 814,519.84 820,518.16 826,517.05 832,516.62 838,516.88 844,517.45 850,518.43 856,519.66 862,521.03 868,522.18 874,522.48 880,522.7 886,523.06 892,523.13 898,523.51 904,523.89 910,524.25 916,524.49 922,524.37 928,524.36 934,524.49 941,525.28 947,526.26 953,527.25 959,528.08 965,528.66 971,529.26 977,529.74 983,530.11 989,530.41 995,530.81 1001,531.74 1007,532.74 1013,533.76" fill="none" stroke="#9D65C9" stroke-width="1" stroke-linejoin="round"/>
</svg>
<svg width="1127" height="651" viewBox="0 0 1127 651" style="position:absolute;left:0;top:0">
<g><rect x="18.5" y="9.5" width="13" height="13" rx="1.3" fill="#fff" stroke="#8a8b8d"/><path d="M19.8 9.5H24V22.5H19.8Q18.5 22.5 18.5 21.2V10.8Q18.5 9.5 19.8 9.5Z" fill="#8a8b8d"/></g>
<text x="41" y="20.6" font-family="Liberation Sans, Noto Sans CJK SC, sans-serif" font-size="14" font-weight="700" fill="#111">英镑/美元</text>
<g fill="none" stroke="#8a8b8d" stroke-width="1.2" stroke-linecap="round" stroke-linejoin="round">
<path d="M901.6 12.5A6.4 6.4 0 1 0 902.4 17.6"/><path d="M901.9 9.3V12.6H898.8"/>
<path d="M920.4 9.2V22.4M919 10.4H933M931.8 10.4V14.8M920.4 21.7H924.4"/><path d="M926.6 22L932.4 16.9" stroke-width="2.1"/>
<path d="M919.2 10.3L920.4 8.9L921.6 10.3M919.2 21.4L920.4 22.8L921.6 21.4M931.9 9.2L933.3 10.4L931.9 11.6M920.2 9.2L918.8 10.4L920.2 11.6" stroke-width="0.8"/>
<rect x="951.2" y="10" width="12.6" height="9.3" rx="1" stroke-width="1.6" stroke="#a9aaac"/><path d="M957.5 8.6V10M954.5 19.8L951.8 22.3M960.5 19.8L963.2 22.3"/><path d="M953.5 16.8L956.2 14L957.8 15.6L961.5 12.2" stroke-width="0.9"/>
<path d="M985.3 11A6 6 0 1 0 991.6 17.4H985.3Z"/><path d="M987.7 8.6A6 6 0 0 1 993.8 14.8H987.7Z"/>
<circle cx="1014.3" cy="12.7" r="2.3"/><circle cx="1020.8" cy="19.1" r="2.3"/><path d="M1022.8 10.4L1011.6 21.6"/>
<rect x="1041.8" y="9.8" width="4.8" height="4.8" rx="1.2"/>
<rect x="1049" y="9.8" width="4.8" height="4.8" rx="1.2"/>
<rect x="1041.8" y="16.9" width="4.8" height="4.8" rx="1.2"/>
<rect x="1049" y="16.9" width="4.8" height="4.8" rx="1.2"/>
<path d="M1074.4 21.6V10.6L1070.9 14.2M1079.8 10.2V21.2L1083.3 17.6"/>
</g>
<g><rect x="1097.5" y="9.5" width="13" height="13" rx="1.3" fill="#fff" stroke="#8a8b8d"/><path d="M1105 9.5H1109.2Q1110.5 9.5 1110.5 10.8V21.2Q1110.5 22.5 1109.2 22.5H1105Z" fill="#8a8b8d"/></g>
<g font-family="Liberation Sans, Noto Sans CJK SC, sans-serif" font-size="12">
<text x="17" y="49.7" fill="#76808f">开:</text>
<text x="39.6" y="49.7" fill="#089981" textLength="39.3" lengthAdjust="spacingAndGlyphs">1.26796</text>
<text x="90.5" y="49.7" fill="#76808f">高:</text>
<text x="113.2" y="49.7" fill="#089981" textLength="39.3" lengthAdjust="spacingAndGlyphs">1.27037</text>
<text x="164" y="49.7" fill="#76808f">低:</text>
<text x="187.6" y="49.7" fill="#f23645" textLength="39.3" lengthAdjust="spacingAndGlyphs">1.26725</text>
<text x="238.3" y="49.7" fill="#76808f">收:</text>
<text x="261.7" y="49.7" fill="#089981" textLength="39.3" lengthAdjust="spacingAndGlyphs">1.26835</text>
<text x="313" y="49.7" fill="#76808f">时间:</text>
<text x="345.8" y="49.7" fill="#000" textLength="86.5" lengthAdjust="spacingAndGlyphs">2024-01-18 06:00</text>
</g>
<g font-family="Liberation Sans, Noto Sans CJK SC, sans-serif" font-size="10">
<text x="18" y="71" fill="#333">MA(5,10,30,60)</text>
<text x="103" y="71" fill="#FF9600">MA5: 1.26936</text>
<text x="181" y="71" fill="#9D65C9">MA10: 1.27135</text>
<text x="265.5" y="71" fill="#2196F3">MA30: 1.26782</text>
<text x="349.5" y="71" fill="#E11D74">MA60: 1.25402</text>
<text x="18" y="506" fill="#333">MACD(12,26,9)</text>
<text x="103" y="506" fill="#FF9600">DIF: 0.0024</text>
<text x="171" y="506" fill="#9D65C9">DEA: 0.0037</text>
<text x="245" y="506" fill="#f23645">MACD: -0.0027</text>
</g>
<defs><filter id="sh" x="-10%" y="-30%" width="120%" height="170%"><feDropShadow dx="0" dy="3" stdDeviation="3" flood-color="#000" flood-opacity="0.3"/></filter></defs>
<rect x="831.5" y="61.5" width="277" height="56" rx="2" fill="#f5f5f5" filter="url(#sh)"/>
<g fill="#fff"><circle cx="841.5" cy="83" r="0.9"/><circle cx="841.5" cy="87" r="0.9"/><circle cx="841.5" cy="91" r="0.9"/><circle cx="841.5" cy="95" r="0.9"/><circle cx="846.5" cy="83" r="0.9"/><circle cx="846.5" cy="87" r="0.9"/><circle cx="846.5" cy="91" r="0.9"/><circle cx="846.5" cy="95" r="0.9"/></g>
<path d="M859 72.3H970.5Q974.8 72.3 973.3 76.2L963.8 104Q962.4 107.7 958.4 107.7H859Q854 107.7 854 102.7V77.3Q854 72.3 859 72.3Z" fill="#f23645"/>
<path d="M992.5 72.3H1090Q1095 72.3 1095 77.3V102.7Q1095 107.7 1090 107.7H980Q975.6 107.7 977.2 103.8L986.8 76Q988.2 72.3 992.5 72.3Z" fill="#089981"/>
<g font-family="Liberation Sans, Noto Sans CJK SC, sans-serif" font-size="12" font-weight="700" fill="#fff"><text x="878.5" y="94.3">卖出 1.26835</text><text x="999.5" y="94.3">买入 1.26847</text></g>
<rect x="481.5" y="622" width="40" height="24" rx="4" fill="#f2f3f5"/>
<g font-family="Liberation Sans, Noto Sans CJK SC, sans-serif" font-size="12" fill="#1f1f1f" text-anchor="middle">
<text x="36.6" y="639">分时</text>
<text x="85.2" y="639">2日</text>
<text x="131.2" y="639">1分</text>
<text x="176.6" y="639">5分</text>
<text x="227" y="639">15分</text>
<text x="279" y="639">30分</text>
<text x="333.6" y="639">1小时</text>
<text x="391.5" y="639">2小时</text>
<text x="449" y="639">4小时</text>
<text x="501.6" y="639" fill="#1677ff" font-weight="700">日K</text>
<text x="549" y="639">周K</text><text x="597" y="639">月K</text>
</g>
</svg>
</body></html>
